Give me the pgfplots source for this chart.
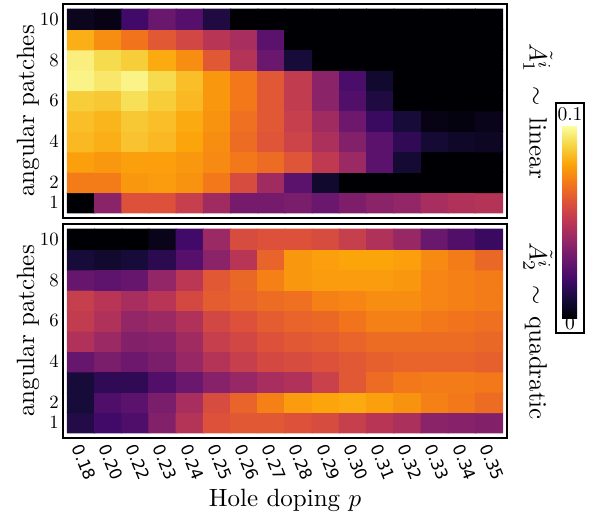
\documentclass[border=0pt]{standalone}
\usepackage{pgfplots}
\usepackage{pgfplotstable}
\pgfplotsset{compat=1.18}
\usepackage{fontspec}
\newfontfamily\ticksans{DejaVu Sans}
\usetikzlibrary{calc}
\newcommand\xtl[1]{\scalebox{0.66}{\ticksans #1}}

\pgfplotsset{
  colormap={inferno}{rgb255=(0,0,4) rgb255=(22,11,57) rgb255=(66,10,104) rgb255=(106,23,110) rgb255=(147,38,103) rgb255=(188,55,84) rgb255=(221,81,58) rgb255=(243,120,25) rgb255=(252,165,10) rgb255=(246,215,70) rgb255=(252,255,164)},
  hm/.style={
    scale only axis, width=177.6pt, height=85.6pt,
    xmin=-0.66, xmax=15.66, ymin=0.25, ymax=10.75,
    ytick={1,2,4,6,8,10},
    xtick={0,...,15},
    major tick length=0pt,
    point meta min=0, point meta max=1,
    colormap name=inferno,
    axis line style={line width=0.5pt},
    yticklabel={\scalebox{0.75}{$\pgfmathprintnumber{\tick}$}},
    yticklabel style={inner sep=1.5pt},
    ylabel={angular patches},
    ylabel style={at={(axis description cs:-0.079,0.5)}, anchor=center, rotate=0},
  },
}

% x index (0 = 0.18 ... 15 = 0.35), y = angular patch, c = colour value (0..1 of 0.1)
\pgfplotstableread{
x y c
0 1 0.00
1 1 0.38
2 1 0.60
3 1 0.60
4 1 0.53
5 1 0.43
6 1 0.33
7 1 0.33
8 1 0.34
9 1 0.30
10 1 0.35
11 1 0.38
12 1 0.40
13 1 0.45
14 1 0.47
15 1 0.48
0 2 0.71
1 2 0.71
2 2 0.77
3 2 0.78
4 2 0.76
5 2 0.70
6 2 0.58
7 2 0.43
8 2 0.26
9 2 0.08
10 2 0.00
11 2 0.00
12 2 0.00
13 2 0.00
14 2 0.00
15 2 0.00
0 3 0.79
1 3 0.77
2 3 0.79
3 3 0.79
4 3 0.77
5 3 0.74
6 3 0.70
7 3 0.67
8 3 0.61
9 3 0.51
10 3 0.42
11 3 0.26
12 3 0.09
13 3 0.00
14 3 0.00
15 3 0.00
0 4 0.84
1 4 0.82
2 4 0.86
3 4 0.84
4 4 0.80
5 4 0.75
6 4 0.67
7 4 0.61
8 4 0.55
9 4 0.46
10 4 0.36
11 4 0.26
12 4 0.16
13 4 0.09
14 4 0.07
15 4 0.06
0 5 0.85
1 5 0.83
2 5 0.87
3 5 0.85
4 5 0.81
5 5 0.76
6 5 0.68
7 5 0.62
8 5 0.53
9 5 0.43
10 5 0.31
11 5 0.18
12 5 0.10
13 5 0.03
14 5 0.02
15 5 0.04
0 6 0.88
1 6 0.87
2 6 0.92
3 6 0.88
4 6 0.84
5 6 0.77
6 6 0.70
7 6 0.62
8 6 0.52
9 6 0.38
10 6 0.24
11 6 0.12
12 6 0.00
13 6 0.00
14 6 0.00
15 6 0.00
0 7 0.97
1 7 0.94
2 7 0.97
3 7 0.91
4 7 0.85
5 7 0.77
6 7 0.70
7 7 0.62
8 7 0.52
9 7 0.38
10 7 0.22
11 7 0.08
12 7 0.00
13 7 0.00
14 7 0.00
15 7 0.00
0 8 0.96
1 8 0.91
2 8 0.88
3 8 0.81
4 8 0.75
5 8 0.62
6 8 0.48
7 8 0.30
8 8 0.10
9 8 0.00
10 8 0.00
11 8 0.00
12 8 0.00
13 8 0.00
14 8 0.00
15 8 0.00
0 9 0.82
1 9 0.75
2 9 0.69
3 9 0.62
4 9 0.56
5 9 0.49
6 9 0.45
7 9 0.26
8 9 0.00
9 9 0.00
10 9 0.00
11 9 0.00
12 9 0.00
13 9 0.00
14 9 0.00
15 9 0.00
0 10 0.05
1 10 0.03
2 10 0.20
3 10 0.30
4 10 0.25
5 10 0.12
6 10 0.00
7 10 0.00
8 10 0.00
9 10 0.00
10 10 0.00
11 10 0.00
12 10 0.00
13 10 0.00
14 10 0.00
15 10 0.00
}\topdata

\pgfplotstableread{
x y c
0 1 0.13
1 1 0.20
2 1 0.23
3 1 0.36
4 1 0.48
5 1 0.60
6 1 0.62
7 1 0.62
8 1 0.60
9 1 0.58
10 1 0.53
11 1 0.49
12 1 0.46
13 1 0.38
14 1 0.37
15 1 0.36
0 2 0.10
1 2 0.23
2 2 0.26
3 2 0.34
4 2 0.45
5 2 0.58
6 2 0.65
7 2 0.72
8 2 0.78
9 2 0.80
10 2 0.81
11 2 0.79
12 2 0.76
13 2 0.72
14 2 0.70
15 2 0.67
0 3 0.10
1 3 0.16
2 3 0.16
3 3 0.24
4 3 0.30
5 3 0.37
6 3 0.41
7 3 0.45
8 3 0.47
9 3 0.54
10 3 0.62
11 3 0.67
12 3 0.70
13 3 0.71
14 3 0.71
15 3 0.70
0 4 0.29
1 4 0.34
2 4 0.31
3 4 0.34
4 4 0.41
5 4 0.48
6 4 0.53
7 4 0.57
8 4 0.58
9 4 0.60
10 4 0.62
11 4 0.64
12 4 0.65
13 4 0.65
14 4 0.65
15 4 0.64
0 5 0.47
1 5 0.42
2 5 0.36
3 5 0.37
4 5 0.43
5 5 0.53
6 5 0.56
7 5 0.60
8 5 0.62
9 5 0.63
10 5 0.65
11 5 0.67
12 5 0.67
13 5 0.67
14 5 0.67
15 5 0.66
0 6 0.52
1 6 0.47
2 6 0.40
3 6 0.42
4 6 0.47
5 6 0.56
6 6 0.60
7 6 0.63
8 6 0.65
9 6 0.66
10 6 0.69
11 6 0.72
12 6 0.72
13 6 0.70
14 6 0.69
15 6 0.68
0 7 0.53
1 7 0.49
2 7 0.45
3 7 0.49
4 7 0.57
5 7 0.63
6 7 0.65
7 7 0.67
8 7 0.68
9 7 0.72
10 7 0.73
11 7 0.75
12 7 0.75
13 7 0.73
14 7 0.72
15 7 0.71
0 8 0.29
1 8 0.27
2 8 0.29
3 8 0.40
4 8 0.50
5 8 0.62
6 8 0.66
7 8 0.72
8 8 0.77
9 8 0.78
10 8 0.78
11 8 0.78
12 8 0.77
13 8 0.73
14 8 0.72
15 8 0.71
0 9 0.10
1 9 0.08
2 9 0.10
3 9 0.15
4 9 0.25
5 9 0.38
6 9 0.49
7 9 0.65
8 9 0.77
9 9 0.79
10 9 0.80
11 9 0.80
12 9 0.79
13 9 0.74
14 9 0.71
15 9 0.66
0 10 0.00
1 10 0.00
2 10 0.00
3 10 0.04
4 10 0.20
5 10 0.42
6 10 0.58
7 10 0.60
8 10 0.60
9 10 0.58
10 10 0.53
11 10 0.47
12 10 0.41
13 10 0.30
14 10 0.24
15 10 0.18
}\bottomdata

\begin{document}
\begin{tikzpicture}
\useasboundingbox (-25.2pt,1.6pt) rectangle (212.8pt,-206.8pt);

\begin{axis}[hm, name=top, at={(0pt,0pt)}, anchor=north west,
  xticklabels={},
  colorbar,
  colorbar style={
    at={($(parent axis.north west)+(199.6pt,-48.4pt)+(-0.3cm,0pt)$)}, anchor=north west,
    scale only axis, width=6pt, height=77.2pt,
    ytick=\empty, xtick=\empty, axis line style={draw=none},
  },
]
\addplot[matrix plot*, mesh/cols=16, point meta=explicit] table[x=x, y=y, meta=c] {\topdata};
\end{axis}

\begin{axis}[hm, name=bot, at={(0pt,-88pt)}, anchor=north west,
  xticklabels={\xtl{0.18},\xtl{0.20},\xtl{0.22},\xtl{0.23},\xtl{0.24},\xtl{0.25},\xtl{0.26},\xtl{0.27},\xtl{0.28},\xtl{0.29},\xtl{0.30},\xtl{0.31},\xtl{0.32},\xtl{0.33},\xtl{0.34},\xtl{0.35}},
  xticklabel style={xshift=-2.1pt, rotate=-68, anchor=west, inner sep=1pt},
  xticklabel shift=1.8pt,
  xlabel={Hole doping $p$},
  xlabel style={at={(axis description cs:0.5,-0.319)}, anchor=base},
]
\addplot[matrix plot*, mesh/cols=16, point meta=explicit] table[x=x, y=y, meta=c] {\bottomdata};
\end{axis}

\node[xshift=3pt, rotate=-90, anchor=south] at (top.east) {$\tilde{A}_1^i$\hspace{0.55em}$\sim$\hspace{0.45em}linear};
\node[xshift=3pt, rotate=-90, anchor=south] at (bot.east) {$\tilde{A}_2^i$\hspace{0.55em}$\sim$\hspace{0.45em}quadratic};

\draw[line width=0.5pt] (197.2pt,-39.6pt) rectangle (208.4pt,-131.6pt);
\node at (202.8pt,-44.2pt) {\scalebox{0.78}{0.1}};
\node at (202.8pt,-127.8pt) {\scalebox{0.78}{0}};
\end{tikzpicture}
\end{document}
